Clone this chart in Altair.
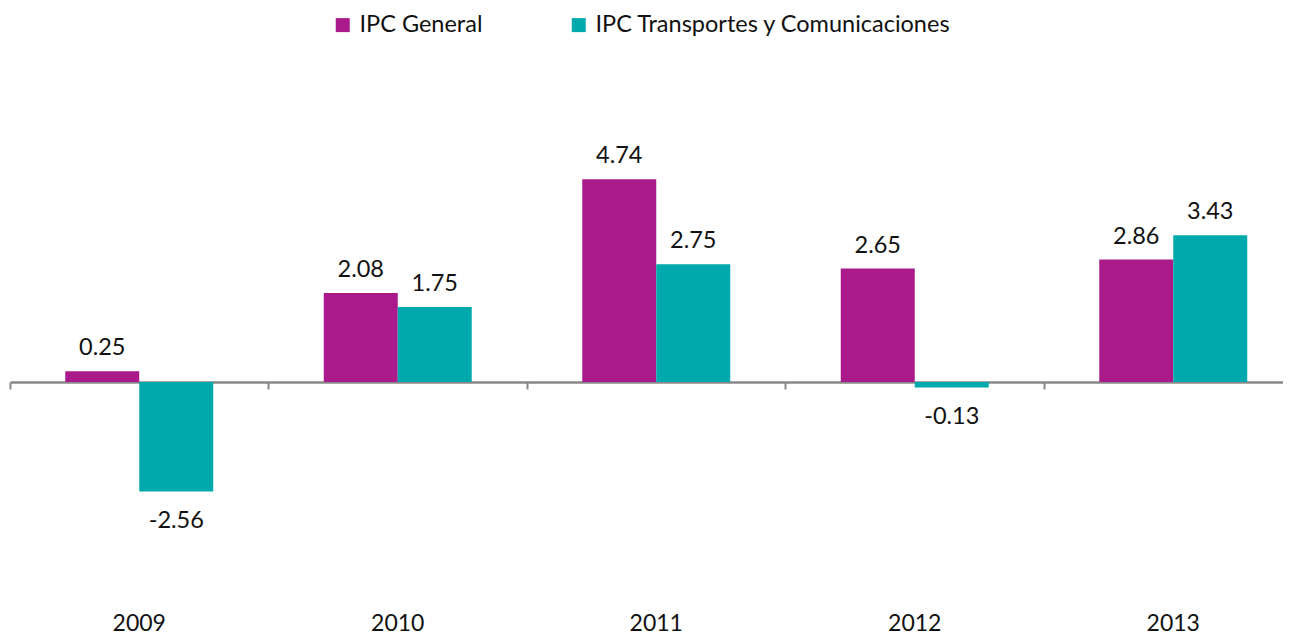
import altair as alt
import pandas as pd

years = ["2009", "2010", "2011", "2012", "2013"]
general = [0.25, 2.08, 4.74, 2.65, 2.86]
transport = [-2.56, 1.75, 2.75, -0.13, 3.43]
series = ["IPC General", "IPC Transportes y Comunicaciones"]
colors = ["#AA1A8B", "#00A9AB"]

rows = []
for i, yr in enumerate(years):
    rows.append({"year": yr, "series": series[0], "value": general[i]})
    rows.append({"year": yr, "series": series[1], "value": transport[i]})
df = pd.DataFrame(rows)
df["label"] = df["value"].map(lambda v: f"{v:.2f}")

FONT = "Lato"
FS = 23.5
PX_PER_UNIT = 42.8
Y_MIN, Y_MAX = -5, 7.5
xscale = alt.Scale(domain=years, range=[0, 1292.5], paddingInner=0, paddingOuter=0)
yscale = alt.Scale(domain=[Y_MIN, Y_MAX], nice=False, zero=False)

x_axis = alt.Axis(title=None, orient="bottom", offset=-(abs(Y_MIN) * PX_PER_UNIT),
                  domain=True, domainColor="#888888", domainWidth=2.5,
                  ticks=True, tickColor="#888888", tickWidth=2, tickSize=7,
                  bandPosition=0,
                  labelFontSize=23, labelFont=FONT, labelColor="#111111",
                  labelPadding=223, labelAngle=0)
x = alt.X("year:N", scale=xscale, axis=x_axis)
xoff = alt.XOffset("series:N",
                   scale=alt.Scale(domain=series, paddingInner=0, paddingOuter=0.747))
y = alt.Y("value:Q", scale=yscale, axis=None)

color = alt.Color("series:N",
                  scale=alt.Scale(domain=series, range=colors),
                  legend=alt.Legend(title=None, orient="none", legendX=321, legendY=-48,
                                    direction="horizontal", symbolType="square",
                                    symbolSize=196, symbolStrokeWidth=0,
                                    labelFontSize=FS, labelFont=FONT, labelColor="#111111",
                                    labelLimit=600,
                                    columnPadding=84, labelOffset=5, padding=0))

base = alt.Chart(df)
bars = base.mark_bar().encode(x=x, xOffset=xoff, y=y, color=color)

pos_lbl = base.transform_filter("datum.value >= 0").mark_text(
    dy=-16, baseline="alphabetic", fontSize=FS, font=FONT, color="#111111").encode(
    x=x, xOffset=xoff, y=y, text="label:N")
neg_lbl = base.transform_filter("datum.value < 0").mark_text(
    dy=36, baseline="alphabetic", fontSize=FS, font=FONT, color="#111111").encode(
    x=x, xOffset=xoff, y=y, text="label:N")

chart = alt.layer(bars, pos_lbl, neg_lbl).properties(
    width=1273, height=535,
    padding={"left": 2, "top": 53, "right": 0, "bottom": 42},
    autosize=alt.AutoSizeParams(type="none"),
    background="white",
).configure_view(stroke=None)

chart.save("out.html", embed_options={"renderer": "svg", "actions": False})
